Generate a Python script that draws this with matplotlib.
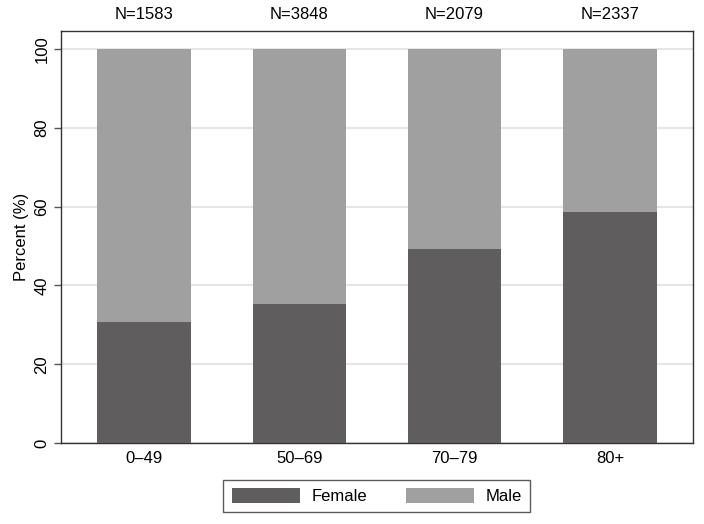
import numpy as np
import matplotlib
matplotlib.use('Agg')
import matplotlib.pyplot as plt

plt.rcParams['font.family'] = ['Liberation Sans', 'DejaVu Sans']

groups = ['0\u201349', '50\u201369', '70\u201379', '80+']
counts = ['N=1583', 'N=3848', 'N=2079', 'N=2337']
female = np.array([30.7, 35.2, 49.2, 58.6])
male = 100 - female

fig = plt.figure(figsize=(7.04, 5.24), dpi=100)
ax = fig.add_axes([0.0862, 0.1546, 0.8982, 0.7862])

x = np.arange(len(groups))
ax.bar(x, female, width=0.6, color='#605d5e', label='Female', zorder=3)
ax.bar(x, male, width=0.6, bottom=female, color='#a0a0a0', label='Male', zorder=3)

ax.set_xlim(-0.536, 3.535)
ax.set_ylim(0, 104.6)
ax.set_yticks([0, 20, 40, 60, 80, 100])
ax.set_xticks(x)
ax.set_xticklabels(groups, fontsize=12)
ax.tick_params(axis='x', length=0, pad=6)
ax.tick_params(axis='y', length=5, width=1, color='#555555', pad=3, labelsize=12)
for lab in ax.get_yticklabels():
    lab.set_rotation(90)
    lab.set_va('center')
ax.yaxis.grid(True, color='#e6e6e6', linewidth=1.5, zorder=0)
ax.set_axisbelow(True)
for s in ax.spines.values():
    s.set_color('#333333')
    s.set_linewidth(1)

ax.set_ylabel('Percent (%)', fontsize=12, labelpad=4)

for i, n in enumerate(counts):
    ax.text(x[i], 1.041, n, transform=ax.get_xaxis_transform(), ha='center', va='center', fontsize=12)

leg = ax.legend(loc='center', bbox_to_anchor=(0.5, -0.1286), ncol=2, fontsize=12,
                frameon=True, fancybox=False, handlelength=4.1, handleheight=1.0,
                handletextpad=0.7, columnspacing=2.3, borderpad=0.5)
leg.get_frame().set_edgecolor('#333333')
leg.get_frame().set_linewidth(1)

plt.savefig('out.png', dpi=100)
